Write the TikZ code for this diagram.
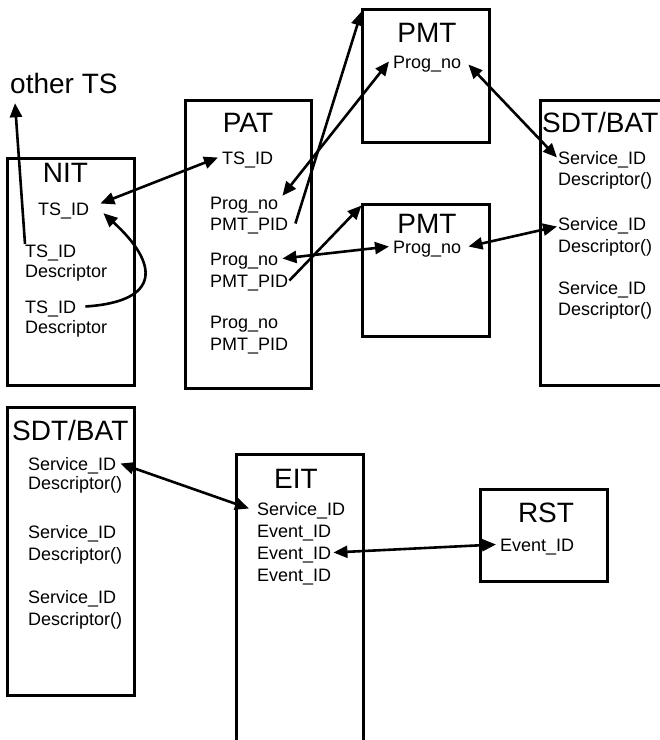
\documentclass[tikz,border=0pt]{standalone}
\usepackage{fontspec}
\setmainfont{Liberation Sans}
\usetikzlibrary{arrows.meta}
\tikzset{
  tbl/.style={draw, line width=3pt, inner sep=0pt},
  item/.style={anchor=base west, inner xsep=4pt, inner ysep=0pt, text height=13pt, text depth=0pt, font=\fontsize{18}{20}\selectfont},
  ttl/.style={inner sep=0pt, text height=20pt, text depth=0pt, font=\fontsize{28}{30}\selectfont, anchor=base},
  tip/.tip={Triangle[length=14pt,width=12pt]},
  arr/.style={line width=2.6pt, -tip},
  arr2/.style={line width=2.6pt, tip-tip}
}
\begin{document}
\begin{tikzpicture}[x=1pt,y=-1pt]
\clip (0,0) rectangle (660,740);
\fill[white] (0,0) rectangle (660,740);
% boxes
\node[tbl, minimum width=127pt, minimum height=227pt] (nit) at (70.5,271.5) {};
\node[tbl, minimum width=126pt, minimum height=288pt] (pat) at (248,244) {};
\node[tbl, minimum width=127pt, minimum height=133pt] (pmt1) at (425.5,75.5) {};
\node[tbl, minimum width=127pt, minimum height=132pt] (pmt2) at (425.5,270) {};
\node[tbl, minimum width=140pt, minimum height=285pt] (sdt1) at (610,242.5) {};
\node[tbl, minimum width=127pt, minimum height=288pt] (sdt2) at (70.5,551) {};
\node[tbl, minimum width=127pt, minimum height=316pt] (eit) at (299.5,612) {};
\node[tbl, minimum width=127pt, minimum height=92pt] (rst) at (543.5,535) {};
% titles
\node[ttl, anchor=base west] (other) at (10,93) {other TS};
\node[ttl] (nitT) at (65.5,182) {NIT};
\node[ttl] (patT) at (248,132) {PAT};
\node[ttl] (pmt1T) at (427,42) {PMT};
\node[ttl] (pmt2T) at (427,233) {PMT};
\node[ttl, anchor=base west] (sdt1T) at (542,132) {SDT/BAT};
\node[ttl, anchor=base west] (sdt2T) at (12,440) {SDT/BAT};
\node[ttl] (eitT) at (296,488) {EIT};
\node[ttl] (rstT) at (546,522) {RST};
% NIT items
\node[item] (nitTS) at (34,215) {TS\_ID};
\node[item] (nitA) at (21,257) {TS\_ID};
\node[item] (nitAd) at (21,277) {Descriptor};
\node[item] (nitB) at (21,313) {TS\_ID};
\node[item] (nitBd) at (21,333) {Descriptor};
% PAT items
\node[item] (patTS) at (218,164) {TS\_ID};
\node[item] (patP1) at (206,209) {Prog\_no};
\node[item] (patM1) at (206,230) {PMT\_PID};
\node[item] (patP2) at (206,265) {Prog\_no};
\node[item] (patM2) at (206,287) {PMT\_PID};
\node[item] (patP3) at (206,328) {Prog\_no};
\node[item] (patM3) at (206,350) {PMT\_PID};
% PMT items
\node[item] (pmt1P) at (389,68) {Prog\_no};
\node[item] (pmt2P) at (389,253) {Prog\_no};
% SDT/BAT right
\node[item] (sdtS1) at (554,164) {Service\_ID};
\node[item] (sdtD1) at (554,185) {Descriptor()};
\node[item] (sdtS2) at (554,230) {Service\_ID};
\node[item] (sdtD2) at (554,252) {Descriptor()};
\node[item] (sdtS3) at (554,294) {Service\_ID};
\node[item] (sdtD3) at (554,315) {Descriptor()};
% SDT/BAT bottom
\node[item] (sdbS1) at (24,470) {Service\_ID};
\node[item] (sdbD1) at (24,489) {Descriptor()};
\node[item] (sdbS2) at (24,538) {Service\_ID};
\node[item] (sdbD2) at (24,560) {Descriptor()};
\node[item] (sdbS3) at (24,603) {Service\_ID};
\node[item] (sdbD3) at (24,625) {Descriptor()};
% EIT
\node[item] (eitS) at (253,515) {Service\_ID};
\node[item] (eitE1) at (253,537) {Event\_ID};
\node[item] (eitE2) at (253,559) {Event\_ID};
\node[item] (eitE3) at (253,581) {Event\_ID};
% RST
\node[item] (rstE) at (496,551) {Event\_ID};
% connectors
\draw[arr] ([xshift=4pt]nitA.north west) -- ([shift={(5,10)}]other.south west);
\draw[arr2] ([shift={(7,-5)}]nitTS.east) -- (patTS.west);
\draw[arr] ([xshift=5pt]nitB.east) .. controls +(77,-5) and +(55,50) .. ([shift={(10,-2)}]nitTS.south east);
\draw[arr2] (patP1.north east) -- (pmt1P.west);
\draw[arr] ([xshift=3pt]patM1.east) -- ([shift={(1,4)}]pmt1.north west);
\draw[arr2] (patP2.east) -- (pmt2P.west);
\draw[arr] ([xshift=-3pt]patM2.east) -- ([shift={(1,3)}]pmt2.north west);
\draw[arr2] ([shift={(3,3)}]pmt1P.east) -- ([xshift=3pt]sdtS1.west);
\draw[arr2] ([xshift=3pt]pmt2P.east) -- ([shift={(3,3)}]sdtS2.west);
\draw[arr2] (sdbS1.east) -- ([xshift=-4pt]eitS.west);
\draw[arr2] ([xshift=-2pt]eitE2.east) -- (rstE.west);
\end{tikzpicture}
\end{document}
